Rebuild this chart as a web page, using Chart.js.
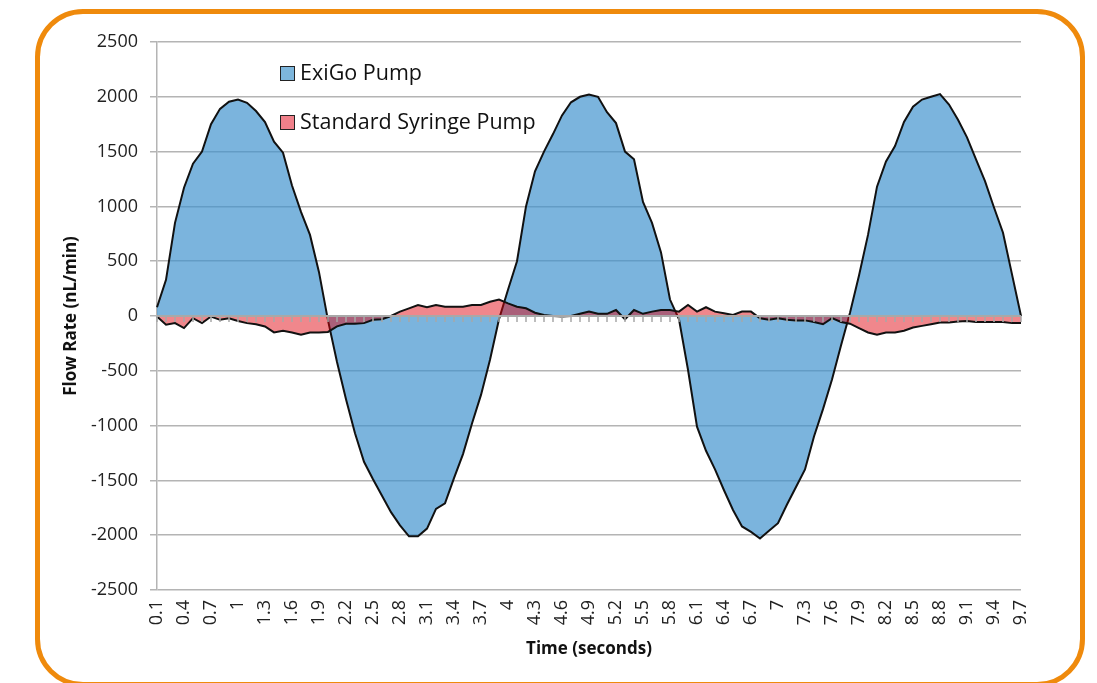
<!DOCTYPE html>
<html>
<head>
<meta charset="utf-8">
<script src="https://cdn.jsdelivr.net/npm/chart.js@4.4.1/dist/chart.umd.min.js"></script>
<style>
  html, body { margin: 0; padding: 0; background: #fff; }
  body { width: 1097px; height: 683px; position: relative; overflow: hidden; font-family: 'Open Sans', sans-serif; }
  #frame { position: absolute; left: 35px; top: 9px; width: 1050px; height: 678px; box-sizing: border-box;
           border: 5.5px solid #EF8A0C; border-radius: 48px; }
  #graficoFluxo { position: absolute; left: 0; top: 0; }
  .legenda { position: absolute; left: 280px; font-size: 21.5px; color: #111; line-height: 22px; }
  .legenda span.caixa { position: absolute; left: 0; top: 3px; width: 13px; height: 13px; border: 1.5px solid #222; }
  .legenda span.texto { position: absolute; left: 20px; top: -2px; white-space: nowrap; }
</style>
</head>
<body>
<div id="frame"></div>
<canvas id="graficoFluxo" width="1097" height="683"></canvas>
<div class="legenda" id="leg0" style="top:63px"><span class="caixa"></span><span class="texto"></span></div>
<div class="legenda" id="leg1" style="top:112px"><span class="caixa"></span><span class="texto"></span></div>
<script>
const times = [
  '0.1','0.2','0.3','0.4','0.5','0.6','0.7','0.8','0.9','1',
  '1.1','1.2','1.3','1.4','1.5','1.6','1.7','1.8','1.9','2',
  '2.1','2.2','2.3','2.4','2.5','2.6','2.7','2.8','2.9','3',
  '3.1','3.2','3.3','3.4','3.5','3.6','3.7','3.8','3.9','4',
  '4.1','4.2','4.3','4.4','4.5','4.6','4.7','4.8','4.9','5',
  '5.1','5.2','5.3','5.4','5.5','5.6','5.7','5.8','5.9','6',
  '6.1','6.2','6.3','6.4','6.5','6.6','6.7','6.8','6.9','7',
  '7.1','7.2','7.3','7.4','7.5','7.6','7.7','7.8','7.9','8',
  '8.1','8.2','8.3','8.4','8.5','8.6','8.7','8.8','8.9','9',
  '9.1','9.2','9.3','9.4','9.5','9.6','9.7'
];

const exigoPump = [
  80, 330, 850, 1170, 1390, 1500, 1750, 1890, 1955, 1975,
  1945, 1870, 1770, 1590, 1490, 1190, 950, 740, 400, -40,
  -420, -760, -1070, -1330, -1490, -1640, -1790, -1910, -2010, -2010,
  -1940, -1760, -1710, -1480, -1260, -980, -720, -400, -30, 240,
  500, 1000, 1320, 1500, 1660, 1830, 1950, 2000, 2020, 2000,
  1860, 1760, 1500, 1430, 1040, 850, 580, 150, -30, -490,
  -1010, -1230, -1400, -1590, -1770, -1920, -1970, -2030, -1960, -1890,
  -1720, -1560, -1400, -1100, -850, -580, -270, 30, 370, 740,
  1180, 1410, 1550, 1770, 1910, 1975, 2000, 2025, 1930, 1790,
  1630, 1430, 1230, 990, 760, 380, 0
];

const syringePump = [
  -5, -80, -65, -110, -20, -65, -5, -35, -20, -45,
  -65, -75, -95, -150, -135, -150, -170, -150, -150, -145,
  -95, -70, -70, -65, -35, -30, 0, 40, 70, 100,
  80, 100, 85, 85, 85, 100, 100, 130, 150, 115,
  85, 70, 30, 10, 0, -5, 0, 20, 40, 20,
  20, 55, -30, 55, 20, 40, 55, 55, 40, 100,
  40, 80, 40, 25, 10, 40, 40, -20, -35, -20,
  -35, -40, -40, -55, -75, -20, -55, -70, -110, -150,
  -170, -150, -150, -135, -105, -90, -75, -60, -60, -50,
  -45, -55, -55, -55, -55, -65, -65
];

const seriesNames = ['ExiGo Pump', 'Standard Syringe Pump'];
const yTicks = [-2500, -2000, -1500, -1000, -500, 0, 500, 1000, 1500, 2000, 2500];

// linha do zero com as marquinhas de cada categoria
const eixoZero = {
  id: 'eixoZero',
  afterDatasetsDraw(chart) {
    const { ctx, scales: { x, y } } = chart;
    const y0 = y.getPixelForValue(0);
    ctx.save();
    ctx.strokeStyle = '#a8a8a8';
    ctx.lineWidth = 2;
    ctx.beginPath();
    ctx.moveTo(x.left, y0);
    ctx.lineTo(x.right, y0);
    ctx.stroke();
    ctx.lineWidth = 1.5;
    ctx.beginPath();
    for (let i = 0; i < times.length; i++) {
      const px = x.getPixelForValue(i);
      ctx.moveTo(px, y0);
      ctx.lineTo(px, y0 + 6);
    }
    ctx.stroke();
    ctx.restore();
  }
};

const fonte = "'Open Sans', sans-serif";

new Chart(document.getElementById('graficoFluxo').getContext('2d'), {
  type: 'line',
  data: {
    labels: times,
    datasets: [
      {
        label: seriesNames[0],
        data: exigoPump,
        fill: 'origin',
        backgroundColor: 'rgba(60,145,205,0.68)',
        borderColor: '#111',
        borderWidth: 2,
        pointRadius: 0,
        tension: 0,
        order: 1
      },
      {
        label: seriesNames[1],
        data: syringePump,
        fill: 'origin',
        backgroundColor: 'rgba(223,0,10,0.47)',
        borderColor: '#111',
        borderWidth: 2,
        pointRadius: 0,
        tension: 0,
        order: 0
      }
    ]
  },
  options: {
    responsive: false,
    animation: false,
    layout: { padding: { left: 57, right: 76, top: 42, bottom: 20 } },
    plugins: {
      legend: { display: false },
      tooltip: { enabled: false }
    },
    scales: {
      x: {
        grid: { display: false, drawTicks: false },
        border: { display: false },
        ticks: {
          autoSkip: false,
          minRotation: 90,
          maxRotation: 90,
          padding: 10,
          color: '#222',
          font: { family: fonte, size: 18 },
          callback: function(value, index) {
            return index % 3 === 0 ? times[index] : '';
          }
        },
        title: {
          display: true,
          text: 'Time (seconds)',
          color: '#111',
          font: { family: fonte, size: 17, weight: 'bold' },
          padding: { top: 4, bottom: 4 }
        },
        afterFit: function(scale) { scale.height = 73; }
      },
      y: {
        min: yTicks[0],
        max: yTicks[yTicks.length - 1],
        afterBuildTicks: function(scale) {
          scale.ticks = yTicks.map(v => ({ value: v }));
        },
        grid: { color: '#b4b4b4', lineWidth: 1.5, tickLength: 7, drawTicks: true },
        border: { display: true, color: '#b4b4b4', width: 1.5 },
        ticks: {
          padding: 12,
          color: '#222',
          font: { family: fonte, size: 18 },
          callback: function(value) { return String(value); }
        },
        title: {
          display: true,
          text: 'Flow Rate (nL/min)',
          color: '#111',
          font: { family: fonte, size: 17, weight: 'bold' },
          padding: { top: 4, bottom: 4 }
        },
        afterFit: function(scale) { scale.width = 100; }
      }
    }
  },
  plugins: [eixoZero]
});

const coresLegenda = ['#7db6dc', '#f0808a'];
seriesNames.forEach((nome, i) => {
  const el = document.getElementById('leg' + i);
  el.querySelector('.caixa').style.background = coresLegenda[i];
  el.querySelector('.texto').textContent = nome;
});
</script>
</body>
</html>
